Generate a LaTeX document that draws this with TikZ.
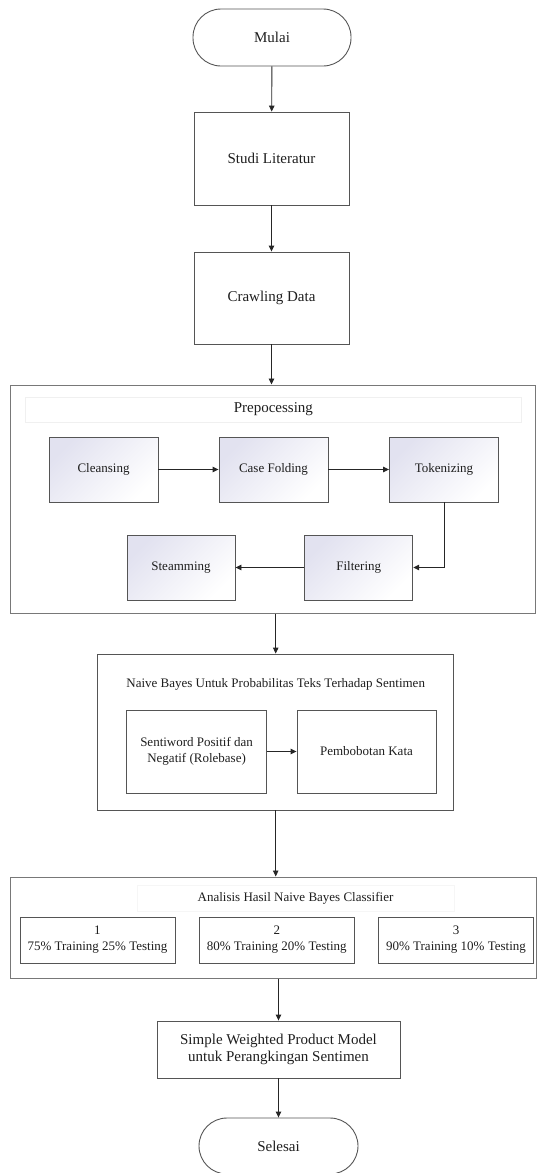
\documentclass[tikz,border=0pt]{standalone}
\usepackage{fontspec}
\setmainfont{Liberation Serif}
\usetikzlibrary{arrows.meta,shapes.misc}
\definecolor{linec}{RGB}{85,85,85}
\definecolor{outerc}{RGB}{120,120,120}
\definecolor{txtc}{RGB}{30,30,30}
\definecolor{shadec}{RGB}{226,226,240}
\newcommand{\bigf}{\fontsize{15}{17.5}\selectfont}
\newcommand{\smallf}{\fontsize{13}{16}\selectfont}
\tikzset{
  box/.style={draw=linec, line width=0.9pt, align=center, inner sep=0pt, text=txtc},
  term/.style={box, rounded corners=28pt},
  outerbox/.style={draw=outerc, line width=1pt, inner sep=0pt},
  subbox/.style={box, top color=shadec, bottom color=white, shading angle=45},
  band/.style={draw=gray!12, line width=0.8pt, inner sep=0pt, text=txtc},
  arr/.style={draw=black!85, line width=0.9pt, -{Triangle[length=6pt,width=5.5pt]}}
}
\begin{document}
\begin{tikzpicture}[x=1pt,y=-1pt]
\useasboundingbox (0,0) rectangle (537,1173);
% top
\node[term, minimum width=158pt, minimum height=57pt, font=\bigf] (mulai) at (272,37.5) {Mulai};
\node[box, minimum width=155pt, minimum height=93pt, font=\bigf] (studi) at (271.5,158.5) {Studi Literatur};
\node[box, minimum width=155pt, minimum height=92pt, font=\bigf] (crawl) at (271.5,298) {Crawling Data};
% preprocessing
\node[outerbox, minimum width=524.4pt, minimum height=228pt] (pre) at (272.8,499) {};
\node[band, minimum width=495.3pt, minimum height=25pt, font=\bigf] (pretitle) at (273.4,409.5) {Prepocessing};
\node[subbox, minimum width=109pt, minimum height=65pt, font=\smallf] (clean) at (103.5,469.5) {Cleansing};
\node[subbox, minimum width=109pt, minimum height=65pt, font=\smallf] (fold) at (273.5,469.5) {Case Folding};
\node[subbox, minimum width=109pt, minimum height=65pt, font=\smallf] (token) at (444,469.5) {Tokenizing};
\node[subbox, minimum width=108pt, minimum height=65pt, font=\smallf] (steam) at (181,567.5) {Steamming};
\node[subbox, minimum width=108pt, minimum height=65pt, font=\smallf] (filter) at (358.75,567.5) {Filtering};
% naive bayes
\node[box, minimum width=356.2pt, minimum height=156pt] (nb) at (275.7,732) {};
\node[text=txtc, font=\smallf, inner sep=0pt] (nbtitle) at (275.7,684) {Naive Bayes Untuk Probabilitas Teks Terhadap Sentimen};
\node[box, minimum width=139.8pt, minimum height=83pt, font=\smallf] (senti) at (196.6,751.5) {Sentiword Positif dan\\Negatif (Rolebase)};
\node[box, minimum width=139pt, minimum height=83pt, font=\smallf] (bobot) at (366.5,751.5) {Pembobotan Kata};
% analisis
\node[outerbox, minimum width=525.4pt, minimum height=101pt] (ana) at (273.3,927.5) {};
\node[band, draw=gray!7, minimum width=317pt, minimum height=26pt, font=\smallf] (anatitle) at (295.5,898) {Analisis Hasil Naive Bayes Classifier};
\node[box, minimum width=155pt, minimum height=46pt, font=\smallf] (b1) at (97.5,940) {1\\75\% Training 25\% Testing};
\node[box, minimum width=155.5pt, minimum height=46pt, font=\smallf] (b2) at (276.75,940) {2\\80\% Training 20\% Testing};
\node[box, minimum width=155pt, minimum height=46pt, font=\smallf] (b3) at (456,940) {3\\90\% Training 10\% Testing};
% bottom
\node[box, minimum width=243pt, minimum height=57pt, font=\bigf] (swp) at (278.5,1049.5) {Simple Weighted Product Model\\untuk Perangkingan Sentimen};
\node[term, minimum width=159pt, minimum height=56pt, font=\bigf] (selesai) at (278.5,1146) {Selesai};
% connectors
\draw[arr] (mulai) -- (studi);
\draw[arr] (studi) -- (crawl);
\draw[arr] (crawl.south) -- (crawl.south |- pre.north);
\draw[arr] (clean) -- (fold);
\draw[arr] (fold) -- (token);
\draw[arr] (token.south) |- (filter.east);
\draw[arr] (filter) -- (steam);
\draw[arr] (nb.north |- pre.south) -- (nb.north);
\draw[arr] (senti) -- (bobot);
\draw[arr] (nb.south) -- (nb.south |- ana.north);
\draw[arr] (swp.north |- ana.south) -- (swp.north);
\draw[arr] (swp) -- (selesai);
\end{tikzpicture}
\end{document}
